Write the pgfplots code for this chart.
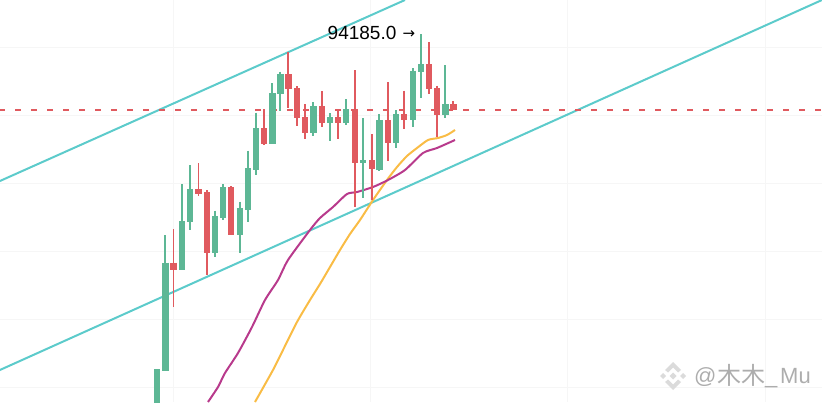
\documentclass[border=0pt]{standalone}
\usepackage{pgfplots}
\pgfplotsset{compat=1.18}
\usepackage{pgfplotstable}
\usepackage{fontspec}
\setmainfont{Liberation Sans}
\newfontfamily\cjk{Noto Sans CJK SC}
\newfontfamily\dejavu{DejaVu Sans}
\definecolor{cgreen}{HTML}{5DB795}
\definecolor{cred}{HTML}{E05A5F}
\definecolor{cteal}{HTML}{5CCBCB}
\definecolor{cyellow}{HTML}{F9BC45}
\definecolor{cmag}{HTML}{B83A8C}
\definecolor{cgrid}{HTML}{F6F6F6}
\pgfplotstableread{
x top bot wt wb
157 369.3 420 369 420
165.3 262.7 370.7 235 370.7
182 221 270 184 270
190 189 222.3 165 230
215 216 252.7 210.7 256.7
223 187.3 217.7 184 220
239.7 208.3 235.3 201.7 252.7
248 168 210 150.7 221.7
256 128 170 112.7 175
272.3 93 144 83.3 144
280.3 74 94 71.7 110.7
313.3 106 132.7 102.3 135.7
330 117.3 122.7 113.3 140.7
346 109.3 122.7 99 125.3
363 160 162.7 118.3 198.3
379.3 120 170 114.3 171
396 114 143.3 110 148.3
412.7 70.7 120 68 127.3
421 64 71.7 34 98.3
445.3 104 115 65 118.3
}\greens
\pgfplotstableread{
x top bot wt wb
173.5 262.7 270 229 306.7
198.5 189 194 163 196
206.7 192 252.7 190 275
231 187.3 235.3 186 235.3
264 128 144 109.3 145
288.3 74 89.3 51.7 107.7
297 88.3 118.3 86 126
305 117.3 132.7 104 139
321.7 106 123.3 91 127.3
338 117.3 122.7 109 139
355 109.3 162.7 70 206.7
371.7 160 169.3 134 200
387.7 120 143.3 82.3 160.7
404 114 119.7 90.7 128.7
429 64 89.3 42.3 94
437 88.3 115 85.7 137.3
453.3 104 110 101 110
}\reds
\tikzset{wm/.style={text=black!32,inner sep=0pt,anchor=base west}}
\pgfplotsset{wick/.style={draw=none,mark=none,forget plot,error bars/.cd,y dir=plus,y explicit,error mark=none,error bar style={solid,#1,line width=1.9pt}},
 body/.style={draw=none,mark=none,forget plot,error bars/.cd,y dir=plus,y explicit,error mark=none,error bar style={solid,#1,line width=6.4pt}}}
\begin{document}
\begin{tikzpicture}[x=1pt,y=1pt]
\useasboundingbox (0,0) rectangle (822pt,402pt);
\begin{axis}[at={(0pt,0pt)},anchor=south west,scale only axis,width=822pt,height=402pt,
  xmin=0,xmax=822,ymin=0,ymax=402,y dir=reverse,
  axis line style={draw=none},tick style={draw=none},
  xtick={173,370,567.5,765},ytick={47,115,183,251,319,387},
  xticklabels={},yticklabels={},
  grid=major,grid style={cgrid,line width=0.8pt},clip=true]
\addplot[cteal,line width=2pt] coordinates {(-5,183.2)(405,0)};
\addplot[cteal,line width=2pt] coordinates {(-5,372.2)(822,0)};
\addplot[color=cred,solid,line width=2pt,dash pattern=on 6pt off 10pt,dash phase=1pt,forget plot] coordinates {(0,110)(822,110)};
\addplot[cyellow,line width=2pt,smooth,tension=0.4] coordinates {(255,402)(273,370)(283,350)(297,322)(310,300)(320,284)(330,267)(340,250)(350,234)(360,220)(373,200)(387,180)(397,167)(407,156)(417,148)(428,140)(438,138)(447,135)(455,130)};
\addplot[cmag,line width=2pt,smooth,tension=0.4] coordinates {(208,402)(218,387)(225,373)(238,353)(252,327)(265,300)(278,280)(288,260)(310,230)(320,218)(333,207)(347,194)(357,192)(373,187)(388,180)(405,170)(423,153)(437,148)(455,140)};
\addplot[wick=cgreen] table[x=x,y=wt,y error expr=\thisrow{wb}-\thisrow{wt}] {\greens};
\addplot[body=cgreen] table[x=x,y=top,y error expr=\thisrow{bot}-\thisrow{top}] {\greens};
\addplot[wick=cred] table[x=x,y=wt,y error expr=\thisrow{wb}-\thisrow{wt}] {\reds};
\addplot[body=cred] table[x=x,y=top,y error expr=\thisrow{bot}-\thisrow{top}] {\reds};
\node[anchor=base west,inner sep=0pt,font=\fontsize{19}{19}\selectfont] at (axis cs:327.5,39.5) {94185.0};
\node[anchor=base west,inner sep=0pt,font=\dejavu\fontsize{15}{15}\selectfont] at (axis cs:402.5,38.5) {→};
\node[wm,font=\fontsize{22}{22}\selectfont] at (axis cs:694,383) {@};
\node[wm,font=\cjk\fontsize{24}{24}\selectfont] at (axis cs:717,384) {木木};
\node[wm,font=\fontsize{22}{22}\selectfont] at (axis cs:765,383) {\_};
\node[wm,font=\fontsize{22}{22}\selectfont] at (axis cs:780,383) {Mu};
\fill[black!14] (axis cs:673,362) -- (axis cs:681,370) -- (axis cs:678,372.5) -- (axis cs:673,367.5) -- (axis cs:668,372.5) -- (axis cs:665,370) -- cycle;
\fill[black!14] (axis cs:673,390) -- (axis cs:681,382) -- (axis cs:678,379.5) -- (axis cs:673,384.5) -- (axis cs:668,379.5) -- (axis cs:665,382) -- cycle;
\fill[black!14] (axis cs:673,372.5) -- (axis cs:676.5,376) -- (axis cs:673,379.5) -- (axis cs:669.5,376) -- cycle;
\fill[black!14] (axis cs:663,373) -- (axis cs:666,376) -- (axis cs:663,379) -- (axis cs:660,376) -- cycle;
\fill[black!14] (axis cs:683,373) -- (axis cs:686,376) -- (axis cs:683,379) -- (axis cs:680,376) -- cycle;
\end{axis}
\end{tikzpicture}
\end{document}
